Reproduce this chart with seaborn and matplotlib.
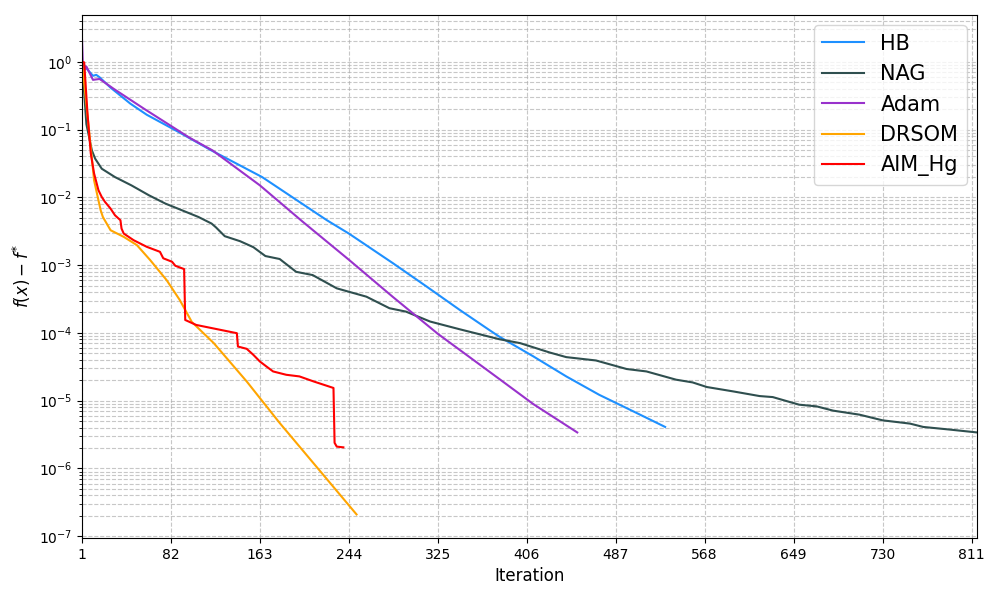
import numpy as np
import pandas as pd
import matplotlib
matplotlib.use('Agg')
import matplotlib.pyplot as plt
import seaborn as sns

# values (iteration, f(x)-f*)
hb_iter = [1, 5, 11, 14, 17, 27, 45, 60, 90, 118, 165, 224, 244, 284, 315, 345, 372, 381, 412, 442, 472, 503, 532]
hb_val = [1.0, 0.8, 0.62, 0.64, 0.59, 0.415, 0.241, 0.165, 0.09, 0.05, 0.0199, 4.59e-3, 2.92e-3, 1.07e-3,
          4.8e-4, 2.18e-4, 1.1e-4, 8.8e-5, 4.5e-5, 2.28e-5, 1.22e-5, 6.96e-6, 4.1e-6]

nag_iter = [1, 5, 10, 13, 19, 31, 46, 62, 77, 92, 107, 119, 123, 131, 145, 157, 168, 181, 196, 211, 233,
            260, 281, 296, 318, 345, 381, 400, 427, 442, 469, 497, 515, 542, 557, 570, 594, 618, 630, 654,
            670, 685, 709, 730, 755, 767, 791, 816]
nag_val = [1.0, 0.12, 0.0491, 0.0371, 0.0264, 0.0199, 0.015, 0.0107, 8.07e-3, 6.44e-3, 5.13e-3, 4.1e-3,
           3.6e-3, 2.67e-3, 2.25e-3, 1.84e-3, 1.36e-3, 1.23e-3, 7.96e-4, 7.13e-4, 4.54e-4, 3.42e-4, 2.31e-4,
           2.06e-4, 1.47e-4, 1.13e-4, 8.07e-5, 7.06e-5, 5.13e-5, 4.39e-5, 3.92e-5, 2.93e-5, 2.70e-5, 2.04e-5,
           1.86e-5, 1.59e-5, 1.37e-5, 1.17e-5, 1.13e-5, 8.73e-6, 8.24e-6, 7.13e-6, 6.22e-6, 5.13e-6, 4.59e-6,
           4.10e-6, 3.75e-6, 3.40e-6]

adam_iter = [1, 2, 5, 11, 17, 30, 58, 99, 120, 163, 202, 244, 284, 325, 381, 412, 452]
adam_val = [2.18, 0.7, 0.85, 0.54, 0.557, 0.397, 0.2, 0.0755, 0.049, 0.015, 4.36e-3, 1.2e-3, 3.4e-4,
            9.7e-5, 2.09e-5, 8.9e-6, 3.4e-6]

drsom_iter = [1, 4, 12, 16, 18, 20, 27, 39, 51, 63, 78, 90, 101, 121, 151, 181, 251]
drsom_val = [1.0, 0.335, 0.0178, 9.0e-3, 6.44e-3, 5.13e-3, 3.27e-3, 2.61e-3, 1.97e-3, 1.19e-3, 6.02e-4,
             3.06e-4, 1.45e-4, 7.06e-5, 1.92e-5, 4.69e-6, 2.1e-7]

aim_iter = [1, 3, 6, 9, 12, 16, 19, 22, 27, 31, 36, 37, 39, 48, 60, 72, 75, 83, 86, 94, 95, 105, 142, 143,
            151, 157, 163, 169, 175, 187, 199, 212, 230, 231, 233, 239]
aim_val = [1.0, 0.977, 0.172, 0.0444, 0.0225, 0.0127, 0.0101, 8.53e-3, 6.82e-3, 5.44e-3, 4.59e-3, 3.46e-3,
           2.92e-3, 2.33e-3, 1.86e-3, 1.57e-3, 1.26e-3, 1.12e-3, 9.77e-4, 8.73e-4, 1.55e-4, 1.31e-4, 9.9e-5,
           6.29e-5, 5.82e-5, 4.75e-5, 3.78e-5, 3.19e-5, 2.70e-5, 2.41e-5, 2.28e-5, 1.92e-5, 1.54e-5, 2.39e-6,
           2.1e-6, 2.05e-6]

methods = ['HB', 'NAG', 'Adam', 'DRSOM', 'AIM_Hg']
colors = {'HB': 'dodgerblue', 'NAG': 'darkslategray', 'Adam': 'darkorchid',
          'DRSOM': 'orange', 'AIM_Hg': 'red'}
series = {'HB': (hb_iter, hb_val), 'NAG': (nag_iter, nag_val), 'Adam': (adam_iter, adam_val),
          'DRSOM': (drsom_iter, drsom_val), 'AIM_Hg': (aim_iter, aim_val)}

rows = []
for m in methods:
    it, v = series[m]
    for a, b in zip(it, v):
        rows.append({'Iteration': a, 'gap': b, 'method': m})
df = pd.DataFrame(rows)

fig, ax = plt.subplots(figsize=(10, 6), dpi=100)
sns.lineplot(data=df, x='Iteration', y='gap', hue='method', hue_order=methods,
             palette=colors, linewidth=1.5, ax=ax, estimator=None, sort=True)

ax.set_yscale('log')
ax.set_xlim(1, 816)
ax.set_xticks(np.arange(1, 816, 81))
ax.grid(True, which='major', linestyle='--', color='#b0b0b0', alpha=0.7)
ax.grid(True, which='minor', axis='y', linestyle='--', color='#b0b0b0', alpha=0.7)

ax.set_xlabel('Iteration', fontsize=12)
ax.set_ylabel(r'$f(x) - f^{*}$', fontsize=12)
ax.legend(fontsize=15, loc='upper right')

fig.subplots_adjust(left=0.082, right=0.977, top=0.975, bottom=0.103)
plt.savefig('out.png')
